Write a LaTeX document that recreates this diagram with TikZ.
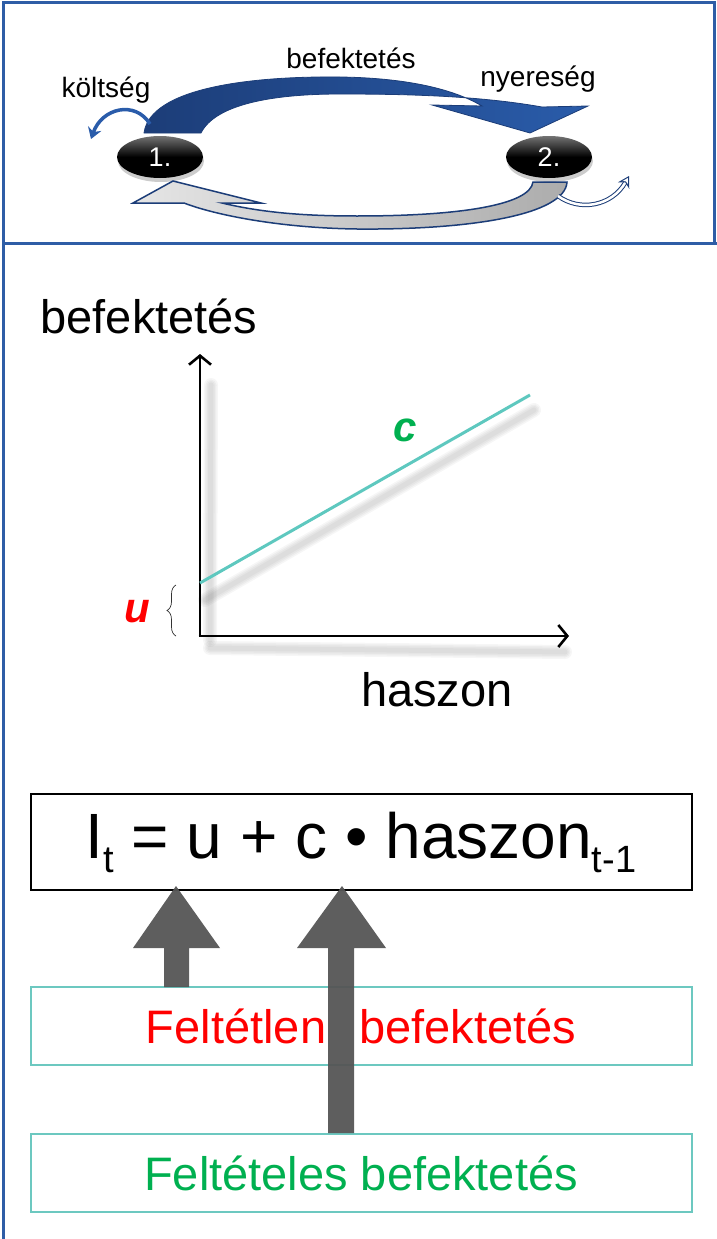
\documentclass[tikz,border=0pt]{standalone}
\usepackage{fontspec}
\setmainfont{Liberation Sans}
\usetikzlibrary{positioning,shapes.geometric,shadows,arrows.meta,decorations.pathreplacing}

\definecolor{framebl}{HTML}{2E5DA6}
\definecolor{arrowbl}{HTML}{2A5CAA}
\definecolor{darkbl}{HTML}{1C3D78}
\definecolor{tealbox}{HTML}{6CC8C0}
\definecolor{tealline}{HTML}{5EC8BF}
\definecolor{fgreen}{HTML}{00B050}
\definecolor{blockgr}{HTML}{555555}

\newcommand{\fsz}[1]{\fontsize{#1}{#1}\selectfont}

\begin{document}
\begin{tikzpicture}[x=1pt, y=-1pt,
  frameline/.style={framebl, line width=3pt},
  lbl/.style={font=\fsz{28}},
  biglbl/.style={font=\fsz{47}},
  numball/.style={ellipse, minimum width=86pt, minimum height=42pt,
    top color=black!55, bottom color=black, middle color=black,
    text=white, font=\fsz{27}, drop shadow={opacity=0.4, shadow xshift=1pt, shadow yshift=-4pt}},
  axisline/.style={line width=2.6pt, -{Straight Barb[length=9pt, width=22pt]}},
  shadowline/.style={black, opacity=0.035, line cap=round},
  textbox/.style={draw=tealbox, line width=2pt, minimum width=661pt, minimum height=78pt},
  blockarrow/.style={fill=blockgr, opacity=0.95}]
  \useasboundingbox (0,0) rectangle (717,1239);

  % frame
  \draw[frameline] (3,1239) -- (3,3) -- (714,3) -- (714,243);
  \draw[frameline] (3,243) -- (717,243);

  % cycle
  \node[numball] (n1) at (160,157) {1.};
  \node[numball] (n2) at (549,157) {2.};
  \shade[left color=darkbl, right color=arrowbl, draw=darkbl, line width=0.8pt]
    (144,133) .. controls (150,88) and (250,76) .. (340,77)
    .. controls (410,78) and (455,90) .. (482,106) -- (432,105) -- (530,133) -- (588,106) -- (542,107)
    .. controls (480,96) and (410,94) .. (340,94)
    .. controls (270,94) and (215,105) .. (201,133) -- cycle;
  \shade[left color=gray!20, right color=gray!65, draw=darkbl, line width=1.5pt]
    (567,182) .. controls (565,215) and (470,230) .. (357,229)
    .. controls (280,228) and (215,215) .. (184,203) -- (133,203) -- (173,181) -- (261,203) -- (222,203)
    .. controls (260,212) and (300,216) .. (357,216)
    .. controls (460,216) and (530,205) .. (533,182) -- cycle;
  \draw[arrowbl, line width=3.5pt, -{Stealth[length=11pt, width=14pt]}]
    (150,124) .. controls (135,100) and (102,108) .. (91,139);
  \draw[darkbl, line width=1pt, double=white, double distance=2.5pt, -{Stealth[open, length=11pt, width=13pt]}]
    (558,196) .. controls (580,212) and (612,206) .. (629,176);
  \node[lbl] (kolts) at (106,90) {költség};
  \node[lbl] (bef) at (351,58) {befektetés};
  \node[lbl] (nyer) at (538,79) {nyereség};

  % graph
  \coordinate (O) at (200,636);
  \coordinate (ytop) at (200,354);
  \coordinate (xend) at (569,636);
  \coordinate (l0) at (200,583);
  \coordinate (l1) at (530,395);
  \foreach \w in {14,11,8,5} {
    \draw[shadowline, line width=\w pt] (210,648) -- (565,652);
    \draw[shadowline, line width=\w pt] (210,640) -- (211,385);
    \draw[shadowline, line width=\w pt] (205,600) -- (534,410);
  }
  \draw[axisline] (O) -- (ytop);
  \draw[axisline] ([xshift=-1.3pt]O) -- (xend);
  \draw[tealline, line width=3pt] (l0) -- (l1);
  \draw[black!80, line width=0.7pt, decorate, decoration={brace, amplitude=9pt}]
    (176,636) -- (176,585);
  \node[biglbl] (ylbl) at (149,316) {befektetés};
  \node[biglbl] (xlbl) at (437,690) {haszon};
  \node[font=\fsz{42}\bfseries\itshape, text=red] (u) at (137,612) {u};
  \node[font=\fsz{42}\bfseries\itshape, text=fgreen] (c) at (405,430) {c};

  % formula
  \node[draw, line width=2pt, minimum width=661pt, minimum height=96pt] (formula) at (361,842)
    {\fsz{64}I\raisebox{-14pt}{\fsz{38}t} = u + c • haszon\raisebox{-14pt}{\fsz{38}t-1}};
  \node[textbox] (felt) at (361,1026) {};
  \node[textbox] (feltel) at (361,1173) {};
  \coordinate (ua) at (176,886);
  \coordinate (ca) at (342,886);
  \fill[blockarrow] (164,987) -- (164,948) -- (133,948) -- (ua) -- (220,948) -- (189,948) -- (189,987) -- cycle;
  \fill[blockarrow] (328,1133) -- (328,948) -- (297,948) -- (ca) -- (386,948) -- (354,948) -- (354,1133) -- cycle;
  \node[font=\fsz{47}, text=red] (felttxt) at (felt) {Feltétlen\hspace{33pt}befektetés};
  \node[font=\fsz{47}, text=fgreen] (feltxt) at (feltel) {Feltételes befektetés};
\end{tikzpicture}
\end{document}
